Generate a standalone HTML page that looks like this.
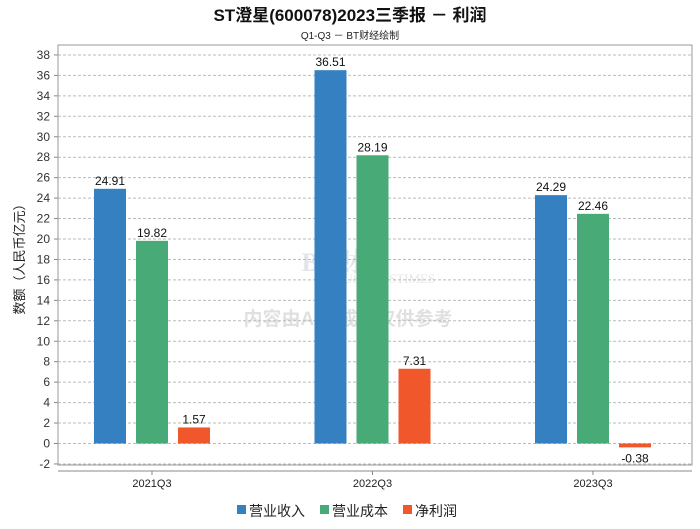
<!DOCTYPE html>
<html><head><meta charset="utf-8"><style>
body{margin:0;background:#fff;width:700px;height:524px;overflow:hidden;font-family:"Liberation Sans","Noto Sans CJK SC",sans-serif}
</style></head><body>
<svg id="chart" width="700" height="524" xmlns="http://www.w3.org/2000/svg" font-family="Liberation Sans, Noto Sans CJK SC, sans-serif">
<text x="350" y="21" text-anchor="middle" font-size="17" font-weight="bold" fill="#111">ST澄星(600078)2023三季报 － 利润</text>
<text x="350" y="39" text-anchor="middle" font-size="10" fill="#222">Q1-Q3 － BT财经绘制</text>
<rect x="58" y="45" width="634" height="420" fill="none" stroke="#999"/>
<line x1="58" y1="471" x2="692" y2="471" stroke="#888"/>
<text transform="translate(24,256) rotate(-90)" text-anchor="middle" font-size="13" fill="#222">数额（人民币亿元）</text>
<g opacity="0.25">
<text x="345" y="271" text-anchor="middle" font-size="26" font-weight="bold" fill="#99a" font-family="Liberation Serif, Noto Serif CJK SC, serif">BT财经</text>
<text x="385" y="283" text-anchor="middle" font-size="13" fill="#99a" font-family="Liberation Serif, serif">BUSINESSTIMES</text>
<text x="348" y="325" text-anchor="middle" font-size="19" font-weight="bold" fill="#888">内容由AI生成，仅供参考</text>
</g>
<g id="grid"></g><g id="bars"></g>
<g font-size="14" fill="#222">
<rect x="237" y="505" width="9" height="9" fill="#3480c0"/><text x="249" y="516">营业收入</text>
<rect x="320" y="505" width="9" height="9" fill="#47aa77"/><text x="332" y="516">营业成本</text>
<rect x="403" y="505" width="9" height="9" fill="#f0572a"/><text x="415" y="516">净利润</text>
</g>
</svg>
<script>
const categories=["2021Q3","2022Q3","2023Q3"];
const revenue=[24.91,36.51,24.29];
const cost=[19.82,28.19,22.46];
const profit=[1.57,7.31,-0.38];
const yTicks=[-2,0,2,4,6,8,10,12,14,16,18,20,22,24,26,28,30,32,34,36,38];
const NS="http://www.w3.org/2000/svg";
const y=v=>443.5-v*10.225;
const cx=i=>152+i*220.5;
const g=document.getElementById('grid'),b=document.getElementById('bars');
function mk(t,a,p){const e=document.createElementNS(NS,t);for(const k in a)e.setAttribute(k,a[k]);p.appendChild(e);return e;}
yTicks.forEach(v=>{
 const l=mk('line',{x1:58,x2:692,y1:y(v),y2:y(v),stroke:'#bbb','stroke-dasharray':'3,2'},g);
 
 
 mk('line',{x1:54,x2:58,y1:y(v),y2:y(v),stroke:'#888'},g);
 const t=mk('text',{x:50,y:y(v)+4,'text-anchor':'end','font-size':12,fill:'#333'},g);t.textContent=v;
 
 
});
const series=[[revenue,'#3480c0','revenue'],[cost,'#47aa77','cost'],[profit,'#f0572a','profit']];
categories.forEach((c,i)=>{
 mk('line',{x1:cx(i),x2:cx(i),y1:471,y2:475,stroke:'#888'},g);
 const t=mk('text',{x:cx(i),y:487,'text-anchor':'middle','font-size':11,fill:'#222'},g);t.textContent=c;
 
 
 series.forEach(([arr,col,nm],j)=>{
  const v=arr[i],x=cx(i)-58+j*42,top=Math.min(y(v),y(0)),h=Math.abs(y(v)-y(0));
  const r=mk('rect',{x:x,y:top,width:32,height:h,fill:col},b);
  
  
  const lt=mk('text',{x:x+16,y:v>=0?y(v)-4:y(v)+15,'text-anchor':'middle','font-size':12,fill:'#111'},b);lt.textContent=v.toFixed(2);
  
  
 });
});
</script>
</body></html>
